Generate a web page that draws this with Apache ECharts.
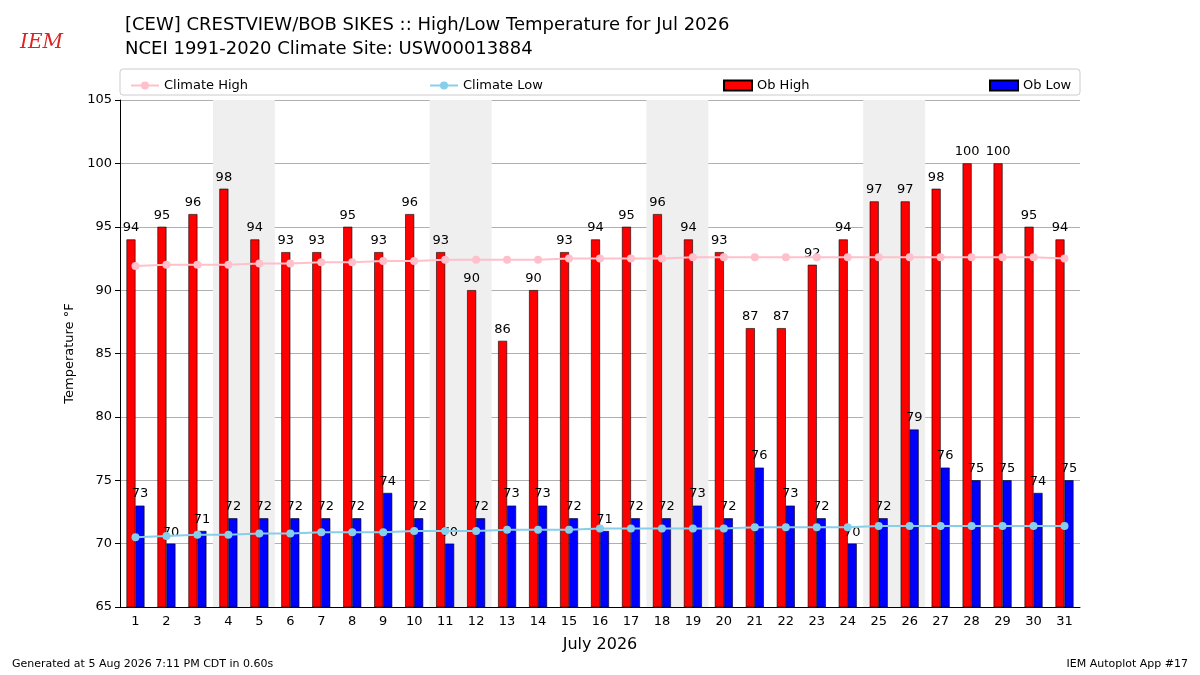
<!DOCTYPE html>
<html>
<head>
<meta charset="utf-8">
<script src="https://cdn.jsdelivr.net/npm/echarts@6/dist/echarts.min.js"></script>
<style>html,body{margin:0;padding:0;background:#fff}#chart{width:1200px;height:675px}</style>
</head>
<body>
<div id="chart"></div>
<script>
var days = [];
for (var i = 1; i <= 31; i++) days.push(String(i));
// 观测值
var obHigh = [94,95,96,98,94,93,93,95,93,96,93,90,86,90,93,94,95,96,94,93,87,87,92,94,97,97,98,100,100,95,94];
var obLow = [73,70,71,72,72,72,72,72,74,72,70,72,73,73,72,71,72,72,73,72,76,73,72,70,72,79,76,75,75,74,75];
// 气候平均
var climHigh = [91.9,92.0,92.0,92.0,92.1,92.1,92.2,92.2,92.3,92.3,92.4,92.4,92.4,92.4,92.5,92.5,92.5,92.5,92.6,92.6,92.6,92.6,92.6,92.6,92.6,92.6,92.6,92.6,92.6,92.6,92.5];
var climLow = [70.5,70.6,70.7,70.7,70.8,70.8,70.9,70.9,70.9,71.0,71.0,71.0,71.1,71.1,71.1,71.2,71.2,71.2,71.2,71.2,71.3,71.3,71.3,71.3,71.4,71.4,71.4,71.4,71.4,71.4,71.4];
// 周末
var weekends = [[4, 5], [11, 12], [18, 19], [25, 26]];
var font = 'DejaVu Sans';
var chart = echarts.init(document.getElementById('chart'));
var lg = {top: 74, itemWidth: 28, itemHeight: 10, textStyle: {fontFamily: font, fontSize: 13, color: '#000'}};
chart.setOption({
    animation: false,
    textStyle: {fontFamily: font},
    title: {
        text: '[CEW] CRESTVIEW/BOB SIKES :: High/Low Temperature for Jul 2026\nNCEI 1991-2020 Climate Site: USW00013884',
        left: 120, top: 8,
        textStyle: {fontFamily: font, fontSize: 18, fontWeight: 'normal', color: '#000', lineHeight: 24}
    },
    graphic: [
        {type: 'text', left: 20, top: 33, style: {text: 'IEM', fill: '#d22', font: 'italic 20px "DejaVu Serif"'}},
        {type: 'rect', shape: {x: 120, y: 69, width: 960, height: 26, r: 3}, style: {fill: 'none', stroke: '#ccc'}},
        {type: 'text', left: 12, top: 659, style: {text: 'Generated at 5 Aug 2026 7:11 PM CDT in 0.60s', fill: '#000', font: '11px "DejaVu Sans"'}},
        {type: 'text', right: 12, top: 659, style: {text: 'IEM Autoplot App #17', fill: '#000', font: '11px "DejaVu Sans"'}}
    ],
    legend: [
        Object.assign({left: 125, data: ['Climate High']}, lg),
        Object.assign({left: 424, data: ['Climate Low']}, lg),
        Object.assign({left: 718, data: [{name: 'Ob High', icon: 'rect'}]}, lg),
        Object.assign({left: 984, data: [{name: 'Ob Low', icon: 'rect'}]}, lg)
    ],
    grid: {left: 120, right: 120, top: 100, bottom: 68},
    xAxis: [{
        type: 'category', data: days,
        name: 'July 2026', nameLocation: 'middle', nameGap: 30,
        nameTextStyle: {fontSize: 16, color: '#000'},
        axisLine: {lineStyle: {color: '#000'}},
        axisTick: {alignWithLabel: true, lineStyle: {color: '#000'}},
        axisLabel: {fontSize: 13, color: '#000'}
    }, {
        type: 'value', min: 0.5, max: 31.5, show: false
    }],
    yAxis: {
        type: 'value', min: 65, max: 105, interval: 5,
        name: 'Temperature °F', nameLocation: 'middle', nameGap: 42,
        nameTextStyle: {fontSize: 13, color: '#000'},
        axisLine: {show: true, lineStyle: {color: '#000'}},
        axisTick: {show: true, lineStyle: {color: '#000'}},
        axisLabel: {fontSize: 13, color: '#000'},
        splitLine: {lineStyle: {color: '#b0b0b0'}}
    },
    series: [
        {
            name: 'weekend', type: 'line', xAxisIndex: 1, data: [], silent: true,
            markArea: {
                silent: true, itemStyle: {color: '#efefef'},
                data: weekends.map(function (w) { return [{xAxis: w[0] - 0.5}, {xAxis: w[1] + 0.5}]; })
            },
            z: 1
        },
        {
            name: 'Ob High', type: 'bar', data: obHigh, barWidth: 9, barGap: '0%',
            itemStyle: {color: '#ff0000', borderColor: '#000', borderWidth: 0.6},
            label: {show: true, position: 'top', distance: 5, fontSize: 13, color: '#000'},
            z: 2
        },
        {
            name: 'Ob Low', type: 'bar', data: obLow, barWidth: 9,
            itemStyle: {color: '#0000ff', borderColor: '#000', borderWidth: 0.6},
            label: {show: true, position: 'top', distance: 5, fontSize: 13, color: '#000'},
            z: 2
        },
        {
            name: 'Climate High', type: 'line', data: climHigh, symbol: 'circle', symbolSize: 8,
            itemStyle: {color: '#ffc0cb'}, lineStyle: {color: '#ffc0cb', width: 2}, z: 3
        },
        {
            name: 'Climate Low', type: 'line', data: climLow, symbol: 'circle', symbolSize: 8,
            itemStyle: {color: '#87ceeb'}, lineStyle: {color: '#87ceeb', width: 2}, z: 3
        }
    ]
});
</script>
</body>
</html>
